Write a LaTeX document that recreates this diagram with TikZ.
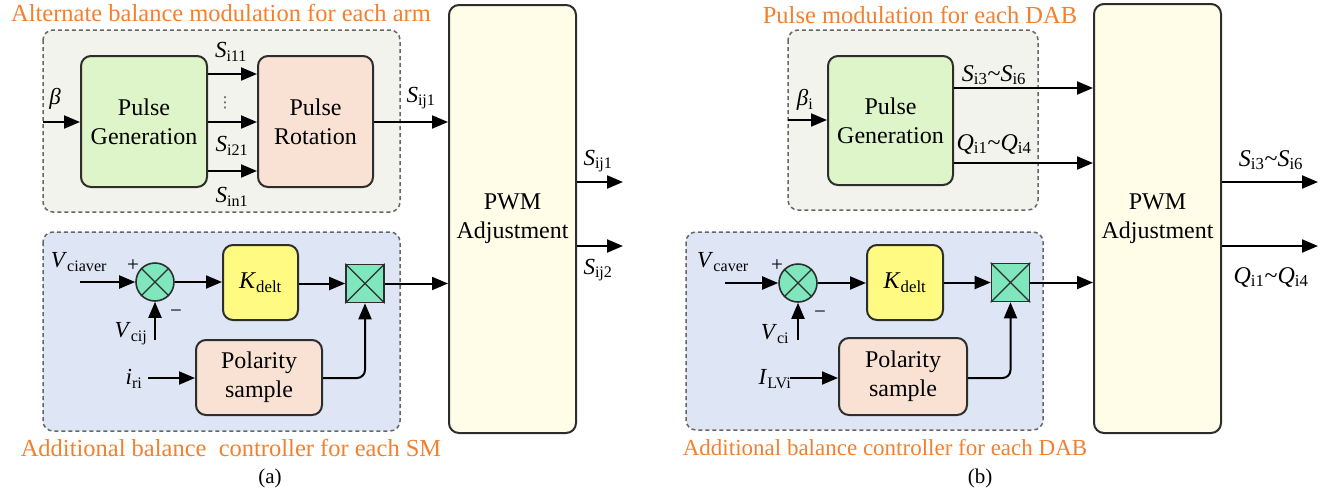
\documentclass[tikz,border=0pt]{standalone}
\usepackage{fontspec}
\setmainfont{Liberation Serif}
\newfontfamily\djv{DejaVu Sans}
\usetikzlibrary{arrows.meta}
\newcommand{\fs}[2]{\fontsize{#1}{#2}\selectfont}
\newcommand{\vr}[2]{\textit{#1}\textsubscript{#2}}
\newcommand{\tl}{\textasciitilde}
\definecolor{ttl}{RGB}{243,128,45}
\definecolor{grpA}{RGB}{241,243,236}
\definecolor{grpB}{RGB}{222,230,246}
\definecolor{pgreen}{RGB}{221,245,200}
\definecolor{ppeach}{RGB}{249,226,211}
\definecolor{pwmy}{RGB}{255,253,232}
\definecolor{kyel}{RGB}{255,250,130}
\definecolor{mint}{RGB}{128,230,190}
\definecolor{edge}{RGB}{45,45,45}
\tikzset{
  blk/.style={draw=edge, line width=2pt, rounded corners=10pt, align=center, font=\fs{24}{29}, inner sep=0pt},
  arr/.style={line width=2pt, -{Triangle[length=16pt,width=13pt]}},
  grp/.style={draw=black!60, dash pattern=on 4pt off 3pt, line width=1.5pt, rounded corners=10pt},
  ttlt/.style={text=ttl, font=\fs{24.5}{28}, inner sep=0pt},
  lbl/.style={font=\fs{23}{27}, inner sep=0pt},
  tlbl/.style={font=\fs{24}{28}, inner sep=0pt},
  slbl/.style={font=\fs{21}{25}, inner sep=0pt},
  sumc/.style={circle, draw=edge, line width=1.6pt, fill=mint, minimum size=38pt, inner sep=0pt},
  mulc/.style={rectangle, draw=edge, line width=1.6pt, fill=mint, minimum size=38pt, inner sep=0pt},
  crs/.style={draw=edge, line width=1.2pt},
}
\begin{document}
\begin{tikzpicture}[x=1pt,y=-1pt]
\useasboundingbox (0,0) rectangle (1337,493);
% ================= (a) =================
\node[ttlt] (t1) at (221,13) {Alternate balance modulation for each arm};
\draw[grp, fill=grpA] (43,30) rectangle (400,212);
\node[blk, fill=pgreen, minimum width=126pt, minimum height=131pt] (pg1) at (144,121.5) {Pulse\\Generation};
\node[blk, fill=ppeach, minimum width=115pt, minimum height=131pt] (pr1) at (315.5,121.5) {Pulse\\Rotation};
\draw[arr] (pg1.east |- 0,74) -- (pr1.west |- 0,74);
\draw[arr] (pg1.east |- 0,122) -- (pr1.west |- 0,122);
\draw[arr] (pg1.east |- 0,171) -- (pr1.west |- 0,171);
\node[lbl] (s11) at (231,52) {\vr{S}{i11}};
\node[font=\djv\fs{15}{18}, text=black!70, inner sep=0pt] (sdots) at (225,103) {⋮};
\node[lbl] (s21) at (232,146) {\vr{S}{i21}};
\node[lbl] (sn1) at (232,197) {\vr{S}{in1}};
\coordinate (bin1) at (43,122);
\draw[arr] (bin1) -- (pg1.west |- bin1);
\node[lbl] (beta1) at (55,99) {\textit{β}};
\node[blk, fill=pwmy, minimum width=127pt, minimum height=428pt] (pwm1) at (512.5,219) {PWM\\Adjustment};
\draw[arr] (pr1.east |- 0,122) -- (pwm1.west |- 0,122);
\node[lbl] (sij1a) at (421,98) {\vr{S}{ij1}};
\coordinate (o1a) at (623,182);
\coordinate (o1b) at (623,246);
\draw[arr] (pwm1.east |- o1a) -- (o1a);
\draw[arr] (pwm1.east |- o1b) -- (o1b);
\node[lbl] (sij1b) at (598,161) {\vr{S}{ij1}};
\node[lbl] (sij2b) at (598,270) {\vr{S}{ij2}};
\draw[grp, fill=grpB] (43,232) rectangle (400,431);
\node[sumc] (sum1) at (155,282) {};
\draw[crs] (sum1.north west) -- (sum1.south east) (sum1.north east) -- (sum1.south west);
\node[lbl] (vca) at (79,262) {\vr{V}{ciaver}};
\coordinate (vin1) at (80,282);
\draw[arr] (vin1) -- (sum1.west);
\node[slbl] (p1) at (133,266) {+};
\node[slbl] (m1) at (176,314) {−};
\coordinate (vcij) at (155,340);
\draw[arr] (vcij) -- (sum1.south);
\node[lbl] (vcijl) at (131,334) {\vr{V}{cij}};
\node[blk, fill=kyel, minimum width=75pt, minimum height=75pt] (k1) at (260.5,282.5) {\vr{K}{delt}};
\node[mulc] (sq1) at (365,283.5) {};
\draw[crs] (sq1.north west) -- (sq1.south east) (sq1.north east) -- (sq1.south west);
\draw[arr] (sum1.east) -- (k1.west |- sum1.east);
\draw[arr] (k1.east |- sq1.west) -- (sq1.west);
\draw[arr] (sq1.east) -- (pwm1.west |- sq1.east);
\node[blk, fill=ppeach, minimum width=126pt, minimum height=75pt] (pol1) at (259,377.5) {Polarity\\sample};
\node[lbl] (iri) at (134,379) {\vr{i}{ri}};
\coordinate (iin1) at (148,378);
\draw[arr] (iin1) -- (pol1.west |- iin1);
\draw[arr, rounded corners=8pt] (pol1.east |- 0,378) -- (sq1.south |- 0,378) -- (sq1.south);
\node[ttlt] (t2) at (231,448) {Additional balance\ \ controller for each SM};
\node[slbl] (ca) at (270,478) {(a)};
% ================= (b) =================
\node[ttlt] (t3) at (920,15) {Pulse modulation for each DAB};
\draw[grp, fill=grpA] (788,30) rectangle (1038,210);
\node[blk, fill=pgreen, minimum width=125pt, minimum height=129pt] (pg2) at (890.5,120.5) {Pulse\\Generation};
\coordinate (bin2) at (788,120);
\draw[arr] (bin2) -- (pg2.west |- bin2);
\node[lbl] (beta2) at (805,100) {\textit{β}\textsubscript{i}};
\node[blk, fill=pwmy, minimum width=127pt, minimum height=429pt] (pwm2) at (1157.5,218.5) {PWM\\Adjustment};
\draw[arr] (pg2.east |- 0,88) -- (pwm2.west |- 0,88);
\draw[arr] (pg2.east |- 0,163) -- (pwm2.west |- 0,163);
\node[tlbl] (s36a) at (994,75) {\vr{S}{i3}\tl\vr{S}{i6}};
\node[tlbl] (q14a) at (994,144) {\vr{Q}{i1}\tl\vr{Q}{i4}};
\coordinate (o2a) at (1318,182);
\coordinate (o2b) at (1318,246);
\draw[arr] (pwm2.east |- o2a) -- (o2a);
\draw[arr] (pwm2.east |- o2b) -- (o2b);
\node[tlbl] (s36b) at (1271,160) {\vr{S}{i3}\tl\vr{S}{i6}};
\node[tlbl] (q14b) at (1271,277) {\vr{Q}{i1}\tl\vr{Q}{i4}};
\draw[grp, fill=grpB] (686,232) rectangle (1043,430);
\node[sumc] (sum2) at (798,283) {};
\draw[crs] (sum2.north west) -- (sum2.south east) (sum2.north east) -- (sum2.south west);
\node[lbl] (vcav) at (723,262) {\vr{V}{caver}};
\coordinate (vin2) at (725,283);
\draw[arr] (vin2) -- (sum2.west);
\node[slbl] (p2) at (777,266) {+};
\node[slbl] (m2) at (820,315) {−};
\coordinate (vci) at (798,340);
\draw[arr] (vci) -- (sum2.south);
\node[lbl] (vcil) at (775,334) {\vr{V}{ci}};
\node[blk, fill=kyel, minimum width=76pt, minimum height=75pt] (k2) at (905,282.5) {\vr{K}{delt}};
\node[mulc] (sq2) at (1010.5,282.5) {};
\draw[crs] (sq2.north west) -- (sq2.south east) (sq2.north east) -- (sq2.south west);
\draw[arr] (sum2.east) -- (k2.west |- sum2.east);
\draw[arr] (k2.east |- sq2.west) -- (sq2.west);
\draw[arr] (sq2.east) -- (pwm2.west |- sq2.east);
\node[blk, fill=ppeach, minimum width=128pt, minimum height=77pt] (pol2) at (903,376.5) {Polarity\\sample};
\node[lbl] (ilv) at (775,379) {\vr{I}{LVi}};
\coordinate (iin2) at (790,378);
\draw[arr] (iin2) -- (pol2.west |- iin2);
\draw[arr, rounded corners=8pt] (pol2.east |- 0,378) -- (sq2.south |- 0,378) -- (sq2.south);
\node[ttlt, font=\fs{23}{27}] (t4) at (885,448) {Additional balance controller for each DAB};
\node[slbl] (cb) at (980,478) {(b)};
\end{tikzpicture}
\end{document}
